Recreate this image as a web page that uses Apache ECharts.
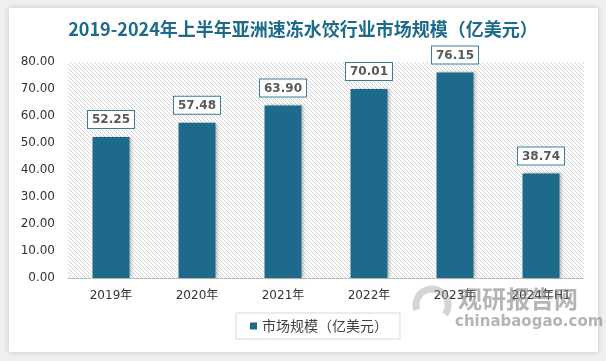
<!DOCTYPE html>
<html><head><meta charset="utf-8">
<script src="https://cdn.jsdelivr.net/npm/echarts@6/dist/echarts.min.js"></script>
<style>html,body{margin:0;padding:0;background:#f0f0f0;}#c{width:606px;height:361px;}</style>
</head><body><div id="c"></div>
<script>
var categories = ['2019年','2020年','2021年','2022年','2023年','2024年H1'];
var values = [52.25, 57.48, 63.90, 70.01, 76.15, 38.74];
var yTicks = {min: 0, max: 80, interval: 10};
var seriesName = '市场规模（亿美元）';
var titleText = '2019-2024年上半年亚洲速冻水饺行业市场规模（亿美元）';

var pc = document.createElement('canvas');
pc.width = 4; pc.height = 4;
var g = pc.getContext('2d');
g.strokeStyle = '#d4d4d4'; g.lineWidth = 1;
g.beginPath();
g.moveTo(-1,-1); g.lineTo(5,5);
g.moveTo(-1,3); g.lineTo(1,5);
g.moveTo(3,-1); g.lineTo(5,1);
g.stroke();

var chart = echarts.init(document.getElementById('c'), null, {renderer:'canvas'});
chart.setOption({
  backgroundColor: '#f0f0f0',
  animation: false,
  graphic: [
    {type:'rect', z:-10, shape:{x:9,y:8,width:589,height:344}, style:{fill:'#ffffff', shadowColor:'rgba(0,0,0,0.18)', shadowBlur:6}},
    {type:'text', z:5, left:458, top:287, style:{text:'观研报告网', fill:'rgba(120,120,120,0.55)', font:'bold 24px "Noto Sans CJK SC"'}},
    {type:'text', z:5, left:455, top:315, style:{text:'chinabaogao.com', fill:'rgba(130,130,130,0.6)', font:'bold 15px "DejaVu Sans"'}},
    {type:'arc', z:5, shape:{cx:432, cy:305, r:16, startAngle:Math.PI*0.9, endAngle:Math.PI*2.2}, style:{fill:'none', stroke:'rgba(150,150,150,0.4)', lineWidth:7}}
  ],
  title: {
    text: titleText, left: 'center', top: 15,
    textStyle: {color:'#1d6a8b', fontSize:18, fontWeight:'bold', fontFamily:'"Noto Sans CJK SC"'}
  },
  legend: {
    data: [seriesName], left: 236, top: 313,
    icon: 'rect', itemWidth: 7, itemHeight: 7,
    borderColor: '#d9d9d9', borderWidth: 1, backgroundColor:'#fff',
    padding: [6, 12, 6, 14],
    textStyle: {fontSize: 14, color:'#404040', fontFamily:'"Noto Sans CJK SC"'}
  },
  grid: {left: 68, right: 22, top: 62, bottom: 83, show: true, borderWidth: 0,
    backgroundColor: {image: pc, repeat: 'repeat'}},
  xAxis: {
    type: 'category', data: categories,
    axisLine: {lineStyle: {color:'#bfbfbf'}},
    axisTick: {show: false},
    axisLabel: {color:'#333', fontSize: 12, margin: 12, fontFamily:'"DejaVu Sans","Noto Sans CJK SC"'}
  },
  yAxis: {
    type: 'value', min: yTicks.min, max: yTicks.max, interval: yTicks.interval,
    axisLine: {show: false}, axisTick: {show: false}, splitLine: {show: false},
    axisLabel: {color:'#333', fontSize: 12, margin: 13, fontFamily:'"DejaVu Sans"',
      formatter: function(v){ return v.toFixed(2); }}
  },
  series: [{
    name: seriesName, type: 'bar', data: values, barWidth: 37,
    itemStyle: {color:'#1d6a8b', shadowColor:'rgba(0,0,0,0.25)', shadowBlur:3, shadowOffsetX:2},
    label: {show: true, position: 'top', distance: 9,
      formatter: function(p){ return p.value.toFixed(2); },
      color:'#595959', fontSize: 12, fontWeight:'bold', fontFamily:'"DejaVu Sans"',
      backgroundColor:'#fff', borderColor:'#3a7d98', borderWidth:1, padding:[3,4,2,4]}
  }]
});
</script></body></html>
